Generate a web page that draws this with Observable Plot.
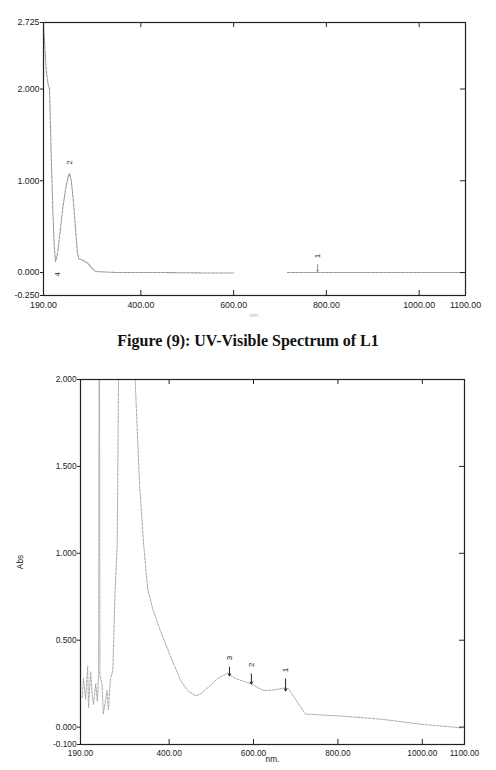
<!DOCTYPE html>
<html><head><meta charset="utf-8">
<script src="https://cdn.jsdelivr.net/npm/d3@7"></script>
<script src="https://cdn.jsdelivr.net/npm/@observablehq/plot@0.6"></script>
<style>
body{margin:0;background:#fff;width:496px;height:770px;position:relative;overflow:hidden}
#c1{position:absolute;left:0;top:0}
#cap{position:absolute;left:0;top:332px;width:496px;text-align:center;font:bold 16px "Liberation Serif","Times New Roman",serif;color:#111}
#c2{position:absolute;left:0;top:360px}
svg{overflow:visible}
</style></head><body>
<div id="c1"></div>
<div id="cap">Figure (9): UV-Visible Spectrum of L1</div>
<div id="c2"></div>
<script>
// ---------- Figure 9: L1 ----------
const l1Wave = [190,193,196,200,203,205,207,210,213,216,220,226,232,238,243,246,250,255,259,263,266,272,280,286,292,300,306,350,450,550,600,650,716,760,780,800,900,1000,1098];
const l1Abs  = [2.70,2.45,2.2,2.05,2.0,1.6,1.2,0.7,0.3,0.12,0.2,0.45,0.72,0.92,1.04,1.08,1.0,0.75,0.48,0.22,0.15,0.14,0.12,0.1,0.06,0.02,0.01,0.0,0.0,-0.005,-0.005,null,0.0,0.0,0.0,0.0,0.0,0.0,0.0];
const l1PeakLabels = ["2","4","1"];
const l1PeakWave   = [247,219,781];
const l1PeakLabelY = [1.2,-0.02,0.18];
const l1ArrowWave  = [781];
const l1ArrowFrom  = [0.09];
const l1ArrowTo    = [0.01];
const l1XTicks = [190,400,600,800,1000,1100];
const l1YTicks = [-0.25,0,1,2,2.725];

// ---------- second spectrum ----------
const l2Wave = [194,197,202,207,209,214,218,221,226,230,233,234,235,236,241,244,249,253,256,261,265,267,272,277,280,282,300,316,320,325,330,332,339,349,361,380,403,427,444,463,474,498,515,538,557,569,593,624,652,671,683,723,806,901,996,1074,1095];
const l2Abs  = [0.17,0.28,0.16,0.35,0.11,0.32,0.17,0.13,0.25,0.15,0.31,2.3,2.3,0.30,0.25,0.075,0.15,0.21,0.10,0.28,0.31,0.35,0.79,1.05,1.97,2.3,2.3,2.2,1.97,1.68,1.39,1.33,1.07,0.80,0.68,0.55,0.41,0.27,0.21,0.18,0.19,0.24,0.28,0.31,0.28,0.27,0.25,0.21,0.215,0.225,0.22,0.075,0.064,0.046,0.017,0.0,-0.005];
const l2PeakLabels = ["3","2","1"];
const l2PeakWave   = [543,595,676];
const l2PeakLabelY = [0.375,0.335,0.306];
const l2ArrowFrom  = [0.345,0.306,0.277];
const l2ArrowTo    = [0.295,0.248,0.208];
const l2XTicks = [190,400,600,800,1000,1100];
const l2YTicks = [-0.1,0,0.5,1,1.5,2];

const fmtX = d => d.toFixed(2);
const fmtY = d => d.toFixed(3);

function frameTicks(xTicks, yTicks, fw, fh) {
  return [
    Plot.tickX(xTicks, {x: d => d, insetTop: fh - 5, stroke: "#222", strokeWidth: 1}),
    Plot.tickX(xTicks, {x: d => d, insetBottom: fh - 5, stroke: "#222", strokeWidth: 1}),
    Plot.tickY(yTicks, {y: d => d, insetLeft: fw - 5, stroke: "#222", strokeWidth: 1})
  ];
}

// chart 1
{
  const W = 496, H = 318, mL = 43, mR = 31, mT = 22, mB = 23;
  const fw = W - mL - mR, fh = H - mT - mB;
  const data = l1Wave.map((w, i) => ({w, a: l1Abs[i]}));
  const peaks = l1PeakLabels.map((t, i) => ({t, w: l1PeakWave[i], y: l1PeakLabelY[i]}));
  const arrows = l1ArrowWave.map((w, i) => ({w, y1: l1ArrowFrom[i], y2: l1ArrowTo[i]}));
  const p = Plot.plot({
    width: W, height: H, marginLeft: mL, marginRight: mR, marginTop: mT, marginBottom: mB,
    x: {domain: [190, 1100]},
    y: {domain: [-0.25, 2.725]},
    style: {fontFamily: "'Liberation Sans', Arial, sans-serif", fontSize: "8.8px", color: "#222", background: "transparent"},
    marks: [
      Plot.line(data, {x: "w", y: "a", stroke: "#999", strokeWidth: 1.1, strokeDasharray: "3,1.2"}),
      Plot.text(peaks, {x: "w", y: "y", text: "t", rotate: -90, fontSize: 8, fill: "#333"}),
      Plot.arrow(arrows, {x1: "w", x2: "w", y1: "y1", y2: "y2", stroke: "#777", strokeWidth: 0.8, headLength: 3}),
      ...frameTicks(l1XTicks, l1YTicks, fw, fh),
      Plot.frame({stroke: "#222", strokeWidth: 1.2}),
      Plot.axisY(l1YTicks, {tickSize: 3, tickPadding: 1, tickFormat: fmtY, label: null, stroke: "#222"}),
      Plot.axisX(l1XTicks, {tickSize: 0, tickPadding: 6.5, tickFormat: fmtX, label: null, fill: "#222"}),
      Plot.axisX({anchor: "bottom", ticks: [], label: "nm.", labelAnchor: "center", labelOffset: 21, labelArrow: "none", fontSize: 6, fill: "#aaa", color: "#aaa"})
    ]
  });
  document.getElementById("c1").append(p);
}

// chart 2
{
  const W = 496, H = 410, mL = 80, mR = 32, mT = 19, mB = 26;
  const fw = W - mL - mR, fh = H - mT - mB;
  const data = l2Wave.map((w, i) => ({w, a: l2Abs[i]}));
  const peaks = l2PeakLabels.map((t, i) => ({t, w: l2PeakWave[i], y: l2PeakLabelY[i], y1: l2ArrowFrom[i], y2: l2ArrowTo[i]}));
  const p = Plot.plot({
    width: W, height: H, marginLeft: mL, marginRight: mR, marginTop: mT, marginBottom: mB,
    x: {domain: [190, 1100]},
    y: {domain: [-0.1, 2.0]},
    clip: true,
    style: {fontFamily: "'Liberation Sans', Arial, sans-serif", fontSize: "8.3px", color: "#222", background: "transparent"},
    marks: [
      Plot.line(data, {x: "w", y: "a", stroke: "#aaa", strokeWidth: 1, strokeDasharray: "2.5,1.3", clip: true}),
      Plot.text(peaks, {x: "w", y: "y", text: "t", rotate: -90, fontSize: 8, fill: "#222", dy: -4}),
      Plot.arrow(peaks, {x1: "w", x2: "w", y1: "y1", y2: "y2", stroke: "#222", strokeWidth: 1, headLength: 3.5}),
      ...frameTicks(l2XTicks, l2YTicks, fw, fh),
      Plot.frame({stroke: "#222", strokeWidth: 1.2}),
      Plot.axisY(l2YTicks, {tickSize: 3, tickPadding: 1, tickFormat: fmtY, label: "Abs", labelAnchor: "center", labelOffset: 63, labelArrow: "none", stroke: "#222"}),
      Plot.axisX(l2XTicks, {tickSize: 0, tickPadding: 6, tickFormat: fmtX, label: "nm.", labelAnchor: "center", labelOffset: 17, labelArrow: "none", fill: "#222"})
    ]
  });
  document.getElementById("c2").append(p);
}
</script>
</body></html>
